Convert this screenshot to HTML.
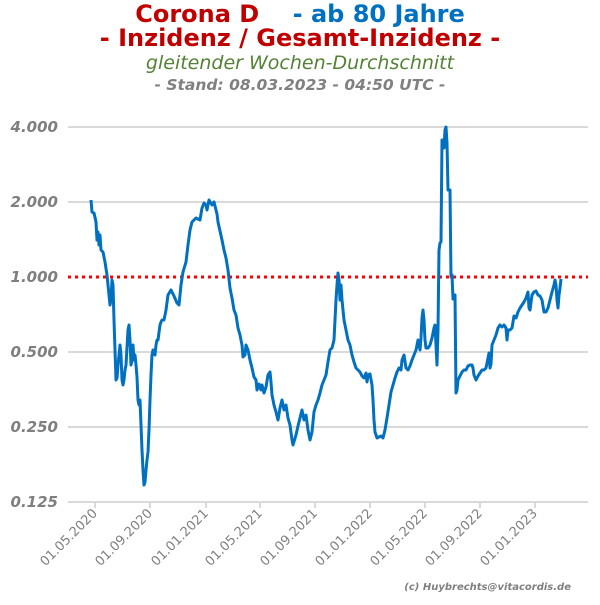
<!DOCTYPE html>
<html><head><meta charset="utf-8"><style>
body{margin:0;background:#fff}
svg text{font-family:"DejaVu Sans","Liberation Sans",sans-serif}
</style></head><body>
<svg width="600" height="600" xmlns="http://www.w3.org/2000/svg">
<text x="300" y="22" text-anchor="middle" font-size="24" font-weight="bold"><tspan fill="#c00000">Corona D</tspan><tspan fill="#0070c0" xml:space="preserve">    - ab 80 Jahre</tspan></text>
<text x="300" y="46" text-anchor="middle" font-size="24" font-weight="bold" fill="#c00000">- Inzidenz / Gesamt-Inzidenz -</text>
<text x="300" y="69" text-anchor="middle" font-size="19" font-style="italic" fill="#548235">gleitender Wochen-Durchschnitt</text>
<text x="300" y="90" text-anchor="middle" font-size="15.5" font-style="italic" font-weight="bold" fill="#808080">- Stand: 08.03.2023 - 04:50 UTC -</text>
<g stroke="#d9d9d9" stroke-width="2">
<line x1="68" x2="588" y1="127" y2="127"/><line x1="68" x2="588" y1="202" y2="202"/>
<line x1="68" x2="588" y1="352" y2="352"/><line x1="68" x2="588" y1="427" y2="427"/>
<line x1="68" x2="588" y1="502" y2="502"/>
<line x1="95" x2="95" y1="502" y2="508"/><line x1="150" x2="150" y1="502" y2="508"/><line x1="206" x2="206" y1="502" y2="508"/><line x1="260" x2="260" y1="502" y2="508"/><line x1="315" x2="315" y1="502" y2="508"/><line x1="370" x2="370" y1="502" y2="508"/><line x1="425" x2="425" y1="502" y2="508"/><line x1="480" x2="480" y1="502" y2="508"/><line x1="535" x2="535" y1="502" y2="508"/>
</g>
<g font-size="15" font-weight="bold" font-style="italic" fill="#7f7f7f" text-anchor="end">
<text x="58" y="132">4.000</text><text x="58" y="207">2.000</text><text x="58" y="282">1.000</text><text x="58" y="357">0.500</text><text x="58" y="432">0.250</text><text x="58" y="507">0.125</text>
</g>
<g font-size="13" fill="#7f7f7f" text-anchor="end">
<text transform="translate(98,514) rotate(-45)">01.05.2020</text>
<text transform="translate(153,514) rotate(-45)">01.09.2020</text>
<text transform="translate(209,514) rotate(-45)">01.01.2021</text>
<text transform="translate(263,514) rotate(-45)">01.05.2021</text>
<text transform="translate(318,514) rotate(-45)">01.09.2021</text>
<text transform="translate(373,514) rotate(-45)">01.01.2022</text>
<text transform="translate(428,514) rotate(-45)">01.05.2022</text>
<text transform="translate(483,514) rotate(-45)">01.09.2022</text>
<text transform="translate(538,514) rotate(-45)">01.01.2023</text>
</g>
<text x="571" y="590" text-anchor="end" font-size="10" font-weight="bold" font-style="italic" fill="#7f7f7f">(c) Huybrechts@vitacordis.de</text>
<line x1="68" x2="588" y1="277" y2="277" stroke="#ff0000" stroke-width="3" stroke-dasharray="3 4"/>
<polyline fill="none" stroke="#0070c0" stroke-width="3" stroke-linejoin="round" points="91,200 92,212 94,213 96,222 97,240 98,232 99,245 100,235 101,250 103,252 105,262 107,275 108,285 109,295 110,305 111,300 112,280 113,285 114,320 115,350 116,380 117,378 118,365 119,355 120,345 121,355 122,380 123,385 124,380 125,370 126,365 128,330 129,325 130,340 131,365 132,360 133,345 134,360 135,355 136,365 137,377 138,400 139,405 140,400 141,425 142,450 143,470 144,485 145,482 146,470 147,460 148,452 149,430 150,400 151,375 152,355 153,350 154,353 155,355 156,345 157,340 158,340 160,325 161,322 162,320 164,320 166,310 168,295 171,290 174,296 177,303 179,305 181,285 183,272 186,262 188,245 190,230 192,222 196,218 200,220 202,208 204,203 206,205 207,210 209,200 212,205 214,202 217,214 218,222 222,240 224,250 226,258 228,270 230,288 232,298 234,310 236,315 238,328 240,335 242,345 243,357 245,355 246,345 248,350 250,360 252,368 254,377 256,380 257,390 259,384 261,390 262,385 264,393 266,387 268,375 270,372 271,382 272,395 274,405 276,412 278,420 280,408 282,400 284,410 286,405 288,418 290,425 292,440 293,445 296,435 298,426 300,418 302,410 304,420 306,415 308,430 310,440 312,432 314,412 316,405 318,400 320,393 322,385 324,380 326,375 328,362 330,350 332,348 334,340 335,320 336,300 337,285 338,273 339,280 340,300 341,285 342,300 344,320 346,330 348,340 350,345 352,355 354,362 356,368 358,370 360,372 362,376 364,378 366,373 367,382 368,375 370,374 372,385 373,400 374,420 375,432 377,438 379,437 381,436 383,438 385,430 387,418 389,405 391,392 393,385 395,378 397,372 399,368 401,370 402,360 404,355 406,368 408,370 410,366 412,360 414,355 416,350 418,340 419,345 420,350 421,338 422,318 423,310 424,320 425,340 426,348 428,348 430,345 432,338 434,328 435,325 436,345 437,365 438,330 439,250 440,243 441,242 442,140 443,145 444,148 445,130 446,127 447,143 448,190 450,190 451,277 452,275 453,299 454,297 455,295 456,393 457,390 458,380 460,376 462,372 464,370 466,370 468,366 470,365 472,365 473,368 474,375 476,380 478,376 480,373 482,370 484,370 486,368 488,358 489,353 490,368 491,364 492,345 494,340 496,335 498,328 500,325 502,327 504,325 506,328 507,340 508,330 510,330 512,328 514,316 516,318 518,312 520,308 522,305 524,302 526,298 528,292 529,308 530,310 532,295 534,292 536,291 538,295 540,296 542,300 544,312 546,312 548,308 550,300 552,292 554,285 555,280 556,285 557,300 558,308 559,295 560,288 561,279"/>
</svg>
</body></html>
